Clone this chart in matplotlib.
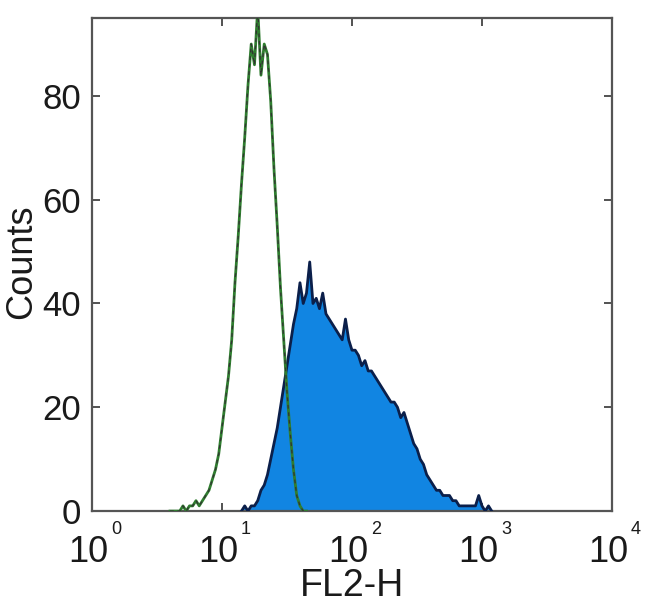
import numpy as np
import matplotlib
matplotlib.use('Agg')
import matplotlib.pyplot as plt
from matplotlib.transforms import blended_transform_factory, offset_copy

plt.rcParams['font.family'] = ['Liberation Sans', 'DejaVu Sans']

# log10 channel positions (bin centres) and counts
ctrl_log = [0.600, 0.625, 0.650, 0.675, 0.700, 0.725, 0.750, 0.775, 0.800, 0.825,
            0.850, 0.875, 0.900, 0.925, 0.950, 0.975, 1.000, 1.025, 1.050, 1.075,
            1.100, 1.125, 1.150, 1.175, 1.200, 1.225, 1.250, 1.275, 1.300, 1.325,
            1.350, 1.375, 1.400, 1.425, 1.450, 1.475, 1.500, 1.525, 1.550, 1.575,
            1.600, 1.625, 1.650]
ctrl_counts = [0, 0, 0, 0, 1, 0, 1, 1, 2, 1,
               2, 3, 4, 6, 8, 11, 16, 21, 26, 33,
               44, 53, 63, 72, 82, 90, 86, 97, 84, 90,
               88, 79, 66, 55, 43, 33, 23, 15, 8, 3,
               1, 0, 0]

samp_log = [1.150, 1.175, 1.200, 1.225, 1.250, 1.275, 1.300, 1.325,
            1.350, 1.375, 1.400, 1.425, 1.450, 1.475, 1.500, 1.525, 1.550, 1.575,
            1.600, 1.625, 1.650, 1.675, 1.700, 1.725, 1.750, 1.775, 1.800, 1.825,
            1.850, 1.875, 1.900, 1.925, 1.950, 1.975, 2.000, 2.025, 2.050, 2.075,
            2.100, 2.125, 2.150, 2.175, 2.200, 2.225, 2.250, 2.275, 2.300, 2.325,
            2.350, 2.375, 2.400, 2.425, 2.450, 2.475, 2.500, 2.525, 2.550, 2.575,
            2.600, 2.625, 2.650, 2.675, 2.700, 2.725, 2.750, 2.775, 2.800, 2.825,
            2.850, 2.875, 2.900, 2.925, 2.950, 2.975, 3.000, 3.025, 3.050, 3.075]
samp_counts = [0, 1, 0, 1, 1, 2, 4, 5,
               7, 10, 13, 16, 20, 24, 28, 32, 36, 39,
               44, 40, 42, 48, 40, 41, 39, 42, 38, 37,
               36, 35, 34, 33, 37, 33, 31, 31, 30, 28,
               29, 27, 27, 26, 25, 24, 23, 22, 21, 21,
               20, 18, 19, 17, 15, 13, 12, 10, 9, 7,
               6, 5, 4, 4, 3, 3, 3, 2, 2, 1,
               1, 1, 1, 1, 1, 3, 1, 0, 1, 0]

xticks = [1, 10, 100, 1000, 10000]
xexps = ['0', '1', '2', '3', '4']
yticks = [0, 20, 40, 60, 80]

fig = plt.figure(figsize=(6.5, 6.15), dpi=100)
ax = fig.add_axes([0.1415, 0.169, 0.80, 0.8016])

s = 10 ** np.array(samp_log)
ax.fill_between(s, samp_counts, 0, color='#1185e2', lw=0, zorder=2)
ax.plot(s, samp_counts, color='#0b1f4a', lw=2.0, zorder=3)

c = 10 ** np.array(ctrl_log)
ax.plot(c, ctrl_counts, color='#2f7d2f', lw=2.0, zorder=4)
ax.plot(c, ctrl_counts, color='#333333', lw=0.9, ls=(0, (3, 3)), zorder=5)

ax.set_xscale('log')
ax.set_xlim(1, 10000)
ax.set_ylim(0, 95)
ax.set_xticks(xticks)
ax.set_yticks(yticks)
ax.xaxis.set_minor_locator(matplotlib.ticker.NullLocator())
ax.tick_params(which='both', direction='in', top=True, right=True,
               length=6, width=1.3, color='#444444', labelsize=25,
               labelcolor='#1a1a1a')
ax.tick_params(axis='x', labelbottom=False)
ax.tick_params(axis='y', pad=8)
for sp in ax.spines.values():
    sp.set_linewidth(1.6)
    sp.set_color('#555555')

# x tick labels as 10 with a small raised exponent
trans = blended_transform_factory(ax.transData, ax.transAxes)
for xt, e in zip(xticks, xexps):
    ax.text(xt, 0, '10', transform=offset_copy(trans, fig=fig, x=-4, y=-24, units='dots'),
            ha='center', va='top', fontsize=26, color='#1a1a1a')
    ax.text(xt, 0, e, transform=offset_copy(trans, fig=fig, x=19, y=-10, units='dots'),
            ha='left', va='top', fontsize=13, color='#1a1a1a')

ax.set_xlabel('FL2-H', fontsize=27, color='#1a1a1a', va='center')
ax.xaxis.set_label_coords(0.5, -0.153)
ax.set_ylabel('Counts', fontsize=26, color='#1a1a1a', va='center')
ax.yaxis.set_label_coords(-0.136, 0.505)

fig.savefig('out.png', dpi=100)
